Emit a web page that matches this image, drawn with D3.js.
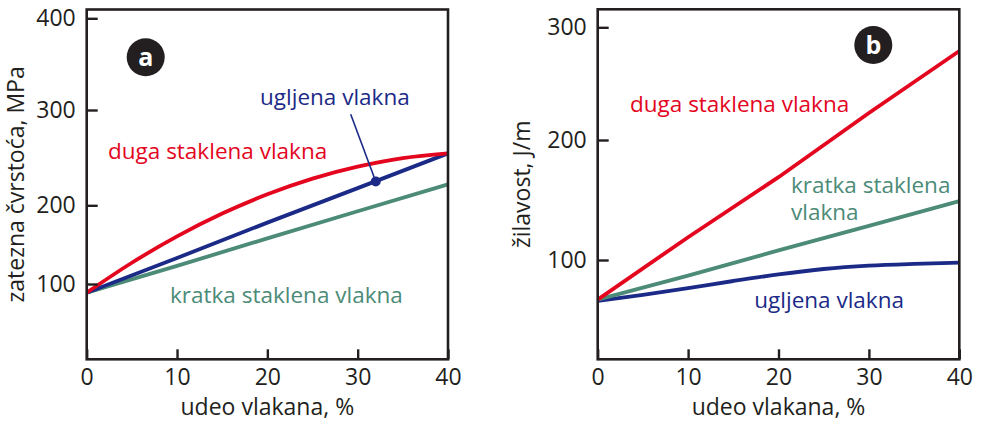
<!DOCTYPE html>
<html><head><meta charset="utf-8">
<script src="https://cdn.jsdelivr.net/npm/d3@7"></script>
<style>
body { margin: 0; background: #fff; }
svg { font-family: "Open Sans", sans-serif; }
</style>
</head><body>
<svg id="chart" width="982" height="423"></svg>
<script>
// udeo vlakana, %
var xCoarse = [0, 10, 20, 30, 40];
var xFine = [0, 5, 10, 15, 20, 25, 30, 35, 40];
var xTicks = [0, 10, 20, 30, 40];

// (a) zatezna cvrstoca, MPa
var aDuga = [89, 127, 160.5, 189.5, 211.5, 228, 240.5, 249.5, 254.5]; // on xFine
var aUgljena = [89, 133, 178, 218, 254.5];                           // on xCoarse
var aKratka = [89, 123, 158, 192.5, 222];                            // on xCoarse
var aTicks = [100, 200, 300, 400];
var aMarker = [32, 225];

// (b) zilavost, J/m
var bDuga = [67, 119, 169, 224, 279];                        // on xCoarse
var bKratka = [67, 87, 108, 128.5, 149];                     // on xCoarse
var bUgljena = [66, 71, 76.5, 82.5, 88, 92.5, 95.3, 96.8, 97.8]; // on xFine
var bTicks = [100, 200, 300];

var RED = "#e3061e", BLUE = "#1b2a87", GREEN = "#4b8b77", INK = "#231f20";

var svg = d3.select("#chart");

function zip(xs, ys) {
	return xs.map(function(v, i) { return [v, ys[i]]; });
}

function drawPanel(p) {
	var g = svg.append("g");
	var x = d3.scaleLinear().domain([0, 40]).range([p.left, p.right]);
	// the printed axis has uneven tick spacing, so the scale is piecewise
	var y = d3.scaleLinear().domain(p.ticks).range(p.tickPx);

	var line = function(curve) {
		return d3.line()
			.x(function(d) { return x(d[0]); })
			.y(function(d) { return y(d[1]); })
			.curve(curve);
	};

	p.series.forEach(function(s) {
		g.append("path")
			.attr("d", line(s.curve)(s.data))
			.attr("fill", "none")
			.attr("stroke", s.color)
			.attr("stroke-width", 3.8);
	});

	if (p.marker) {
		g.append("line")
			.attr("x1", p.marker.from[0]).attr("y1", p.marker.from[1])
			.attr("x2", x(p.marker.at[0])).attr("y2", y(p.marker.at[1]))
			.attr("stroke", BLUE).attr("stroke-width", 1.6);
		g.append("circle")
			.attr("cx", x(p.marker.at[0])).attr("cy", y(p.marker.at[1]))
			.attr("r", 5).attr("fill", BLUE);
	}

	// frame
	g.append("rect")
		.attr("x", p.left).attr("y", p.top)
		.attr("width", p.right - p.left).attr("height", p.bottom - p.top)
		.attr("fill", "none").attr("stroke", INK).attr("stroke-width", 2.6);

	var xa = g.append("g")
		.attr("transform", "translate(0," + p.bottom + ")")
		.call(d3.axisBottom(x).tickValues(xTicks).tickSizeInner(-10).tickSizeOuter(0).tickPadding(9));
	var ya = g.append("g")
		.attr("transform", "translate(" + p.left + ",0)")
		.call(d3.axisLeft(y).tickValues(p.ticks).tickSizeInner(-11).tickSizeOuter(0).tickPadding(11));

	[xa, ya].forEach(function(a) {
		a.attr("font-family", null).attr("font-size", 23);
		a.select(".domain").remove();
		a.selectAll(".tick line").attr("stroke", INK).attr("stroke-width", 2.4);
		a.selectAll(".tick text").attr("fill", INK);
	});

	g.append("text")
		.attr("x", (p.left + p.right) / 2).attr("y", 415)
		.attr("text-anchor", "middle").attr("font-size", 23).attr("fill", INK)
		.text("udeo vlakana, %");
	g.append("text")
		.attr("transform", "translate(" + p.yTitleX + "," + (p.top + p.bottom) / 2 + ") rotate(-90)")
		.attr("text-anchor", "middle").attr("font-size", 23).attr("fill", INK)
		.text(p.yTitle);

	// badge
	g.append("circle")
		.attr("cx", p.badge[0]).attr("cy", p.badge[1]).attr("r", 19).attr("fill", INK);
	g.append("text")
		.attr("x", p.badge[0]).attr("y", p.badge[1]).attr("dy", "0.36em")
		.attr("text-anchor", "middle").attr("font-size", 25).attr("font-weight", "bold")
		.attr("fill", "#fff").text(p.letter);

	p.labels.forEach(function(l) {
		var t = g.append("text")
			.attr("x", l.x).attr("y", l.y)
			.attr("font-size", 22.5).attr("fill", l.color);
		l.text.forEach(function(s, i) {
			t.append("tspan").attr("x", l.x).attr("dy", i ? 27.3 : 0).text(s);
		});
	});
}

drawPanel({
	left: 86.7, right: 448, top: 9.5, bottom: 359.3,
	ticks: aTicks, tickPx: [284, 205.3, 110, 18.3],
	yTitle: "zatezna čvrstoća, MPa", yTitleX: 24,
	letter: "a", badge: [145.7, 57.3],
	series: [
		{ data: zip(xCoarse, aKratka), color: GREEN, curve: d3.curveLinear },
		{ data: zip(xCoarse, aUgljena), color: BLUE, curve: d3.curveLinear },
		{ data: zip(xFine, aDuga), color: RED, curve: d3.curveMonotoneX }
	],
	marker: { at: aMarker, from: [350.7, 114.3] },
	labels: [
		{ text: ["duga staklena vlakna"], x: 108, y: 159.3, color: RED },
		{ text: ["ugljena vlakna"], x: 260, y: 105, color: BLUE },
		{ text: ["kratka staklena vlakna"], x: 170, y: 303.3, color: GREEN }
	]
});

drawPanel({
	left: 597.7, right: 959.3, top: 9.3, bottom: 359.3,
	ticks: bTicks, tickPx: [260, 140, 27.3],
	yTitle: "žilavost, J/m", yTitleX: 530,
	letter: "b", badge: [873.3, 45],
	series: [
		{ data: zip(xFine, bUgljena), color: BLUE, curve: d3.curveMonotoneX },
		{ data: zip(xCoarse, bKratka), color: GREEN, curve: d3.curveLinear },
		{ data: zip(xCoarse, bDuga), color: RED, curve: d3.curveLinear }
	],
	labels: [
		{ text: ["duga staklena vlakna"], x: 630, y: 111.7, color: RED },
		{ text: ["kratka staklena", "vlakna"], x: 791, y: 192.7, color: GREEN },
		{ text: ["ugljena vlakna"], x: 754.3, y: 308.3, color: BLUE }
	]
});
</script>
</body></html>
